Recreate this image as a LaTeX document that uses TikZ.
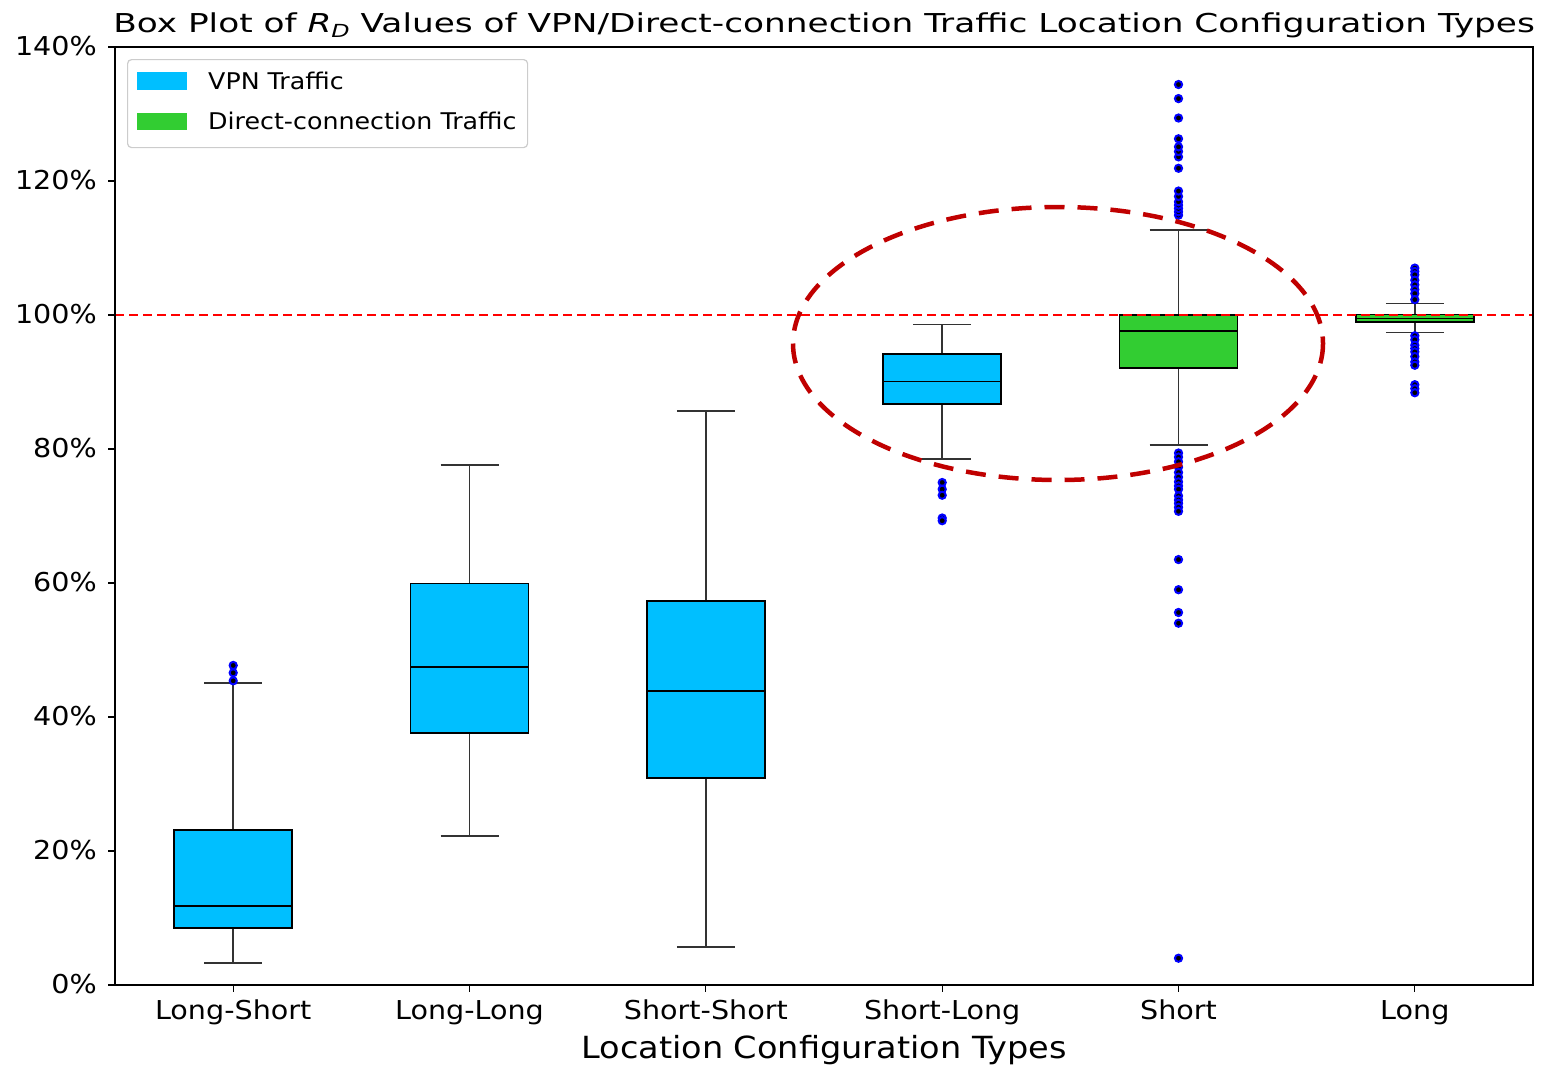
\documentclass[tikz,border=0pt]{standalone}
\usepackage{fontspec}
\setmainfont[FakeStretch=1.1]{DejaVu Sans}
\usetikzlibrary{calc}
\definecolor{vpnblue}{RGB}{0,191,255}
\definecolor{directgreen}{RGB}{50,205,50}
\definecolor{ringred}{RGB}{192,0,0}
\definecolor{legendgray}{RGB}{204,204,204}
\begin{document}
\begin{tikzpicture}[x=1pt,y=-1pt,
  declare function={Y(\v)=985-6.7*\v;},
  boxline/.style={draw=black,line width=1.6pt},
  whisker/.style={draw=black!80,line width=1.6pt},
  medianline/.style={draw=black,line width=1.6pt},
  outlier/.style={fill=black,draw=blue,line width=2pt},
  ticklabel/.style={font=\fontsize{26}{30}\selectfont,inner sep=0pt},
  legendtext/.style={font=\fontsize{23}{27}\selectfont,inner sep=0pt,anchor=base west},
  refline/.style={draw=red,line width=2pt,dash pattern=on 9pt off 5pt},
  ringline/.style={draw=ringred,line width=4.5pt,dash pattern=on 20pt off 13pt}]
\useasboundingbox (0,0) rectangle (1546,1066);

% title
\node[inner sep=0pt,anchor=base,font=\fontsize{26}{30}\selectfont] (title) at (824,32)
  {\scalebox{1.2}[1]{Box Plot of {\itshape R}\raisebox{-0.22em}{\fontsize{18}{20}\selectfont\itshape D} Values of VPN/Direct-connection Traffic Location Configuration Types}};

% y ticks
\foreach \v in {0,20,...,140}{
  \draw[line width=1.3pt] (108,{Y(\v)}) -- (115,{Y(\v)});
  \node[ticklabel,anchor=base east] (yt\v) at (97,{Y(\v)+8.5}) {\v\%};
}

% x ticks and labels
\foreach \i/\lab in {1/Long-Short,2/Long-Long,3/Short-Short,4/Short-Long,5/Short,6/Long}{
  \pgfmathsetmacro{\cx}{115+(\i-0.5)*236.33}
  \draw[line width=1.3pt] (\cx,985) -- (\cx,992);
  \node[ticklabel,anchor=base] (xt\i) at (\cx,1019) {\lab};
}
\node[inner sep=0pt,anchor=base,font=\fontsize{30.5}{34}\selectfont] (xlabel) at (824,1058) {Location Configuration Types};

% one box: center, whisker low, Q1, median, Q3, whisker high, fill colour
\newcommand{\drawbox}[7]{%
  \draw[whisker] (#1,{Y(#2)}) -- (#1,{Y(#3)});
  \draw[whisker] (#1,{Y(#5)}) -- (#1,{Y(#6)});
  \draw[whisker] (#1-29,{Y(#2)}) -- (#1+29,{Y(#2)});
  \draw[whisker] (#1-29,{Y(#6)}) -- (#1+29,{Y(#6)});
  \filldraw[boxline,fill=#7] (#1-59,{Y(#3)}) rectangle (#1+59,{Y(#5)});
  \draw[medianline] (#1-59,{Y(#4)}) -- (#1+59,{Y(#4)});
}
\drawbox{233.2}{3.3}{8.5}{11.8}{23.1}{45.1}{vpnblue}
\drawbox{469.5}{22.2}{37.6}{47.5}{59.9}{77.6}{vpnblue}
\drawbox{705.8}{5.7}{30.9}{43.9}{57.3}{85.7}{vpnblue}
\drawbox{942.2}{78.5}{86.7}{90.1}{94.2}{98.6}{vpnblue}
\drawbox{1178.5}{80.6}{92.1}{97.6}{100.0}{112.7}{directgreen}
\drawbox{1414.8}{97.4}{99.0}{99.5}{100.1}{101.7}{directgreen}

% outliers
\foreach \v in {45.4,46.6,47.7}{\draw[outlier] (233.2,{Y(\v)}) circle (3.6);}
\foreach \v in {75.0,74.0,73.1,69.7,69.3}{\draw[outlier] (942.2,{Y(\v)}) circle (3.6);}
\foreach \v in {114.9,115.4,115.9,116.4,116.9,117.7,118.5,121.9,123.6,124.4,125.1,126.3,129.4,132.3,134.4,
                79.4,78.8,78.1,77.3,76.5,75.8,75.1,74.5,74.0,73.0,72.4,71.9,71.3,70.7,63.5,59.0,55.6,54.0,4.0}
  {\draw[outlier] (1178.5,{Y(\v)}) circle (3.6);}
\foreach \v in {107.0,106.5,106.0,105.2,104.5,103.8,103.2,102.3,
                96.9,96.3,95.5,95.0,94.5,93.8,93.0,92.5,89.6,89.0,88.4}
  {\draw[outlier] (1414.8,{Y(\v)}) circle (3.6);}

% 100% reference line
\coordinate (refL) at (115,{Y(100)});
\coordinate (refR) at (1533,{Y(100)});
\draw[refline] (refL) -- (refR);

% axes frame
\draw[line width=1.5pt] (115,47) rectangle (1533,985);

% legend
\node[draw=legendgray,fill=white,line width=1.2pt,rounded corners=4pt,minimum width=400pt,minimum height=88pt,anchor=north west,inner sep=0pt] (legend) at (127,59) {};
\fill[vpnblue] (137,72) rectangle (187,90);
\fill[directgreen] (137,113) rectangle (187,130);
\node[legendtext] (legvpn) at (208,89) {VPN Traffic};
\node[legendtext] (legdir) at (208,129) {Direct-connection Traffic};

% highlighted region
\draw[ringline] (1058,343.5) ellipse (265 and 136.5);
\end{tikzpicture}
\end{document}
